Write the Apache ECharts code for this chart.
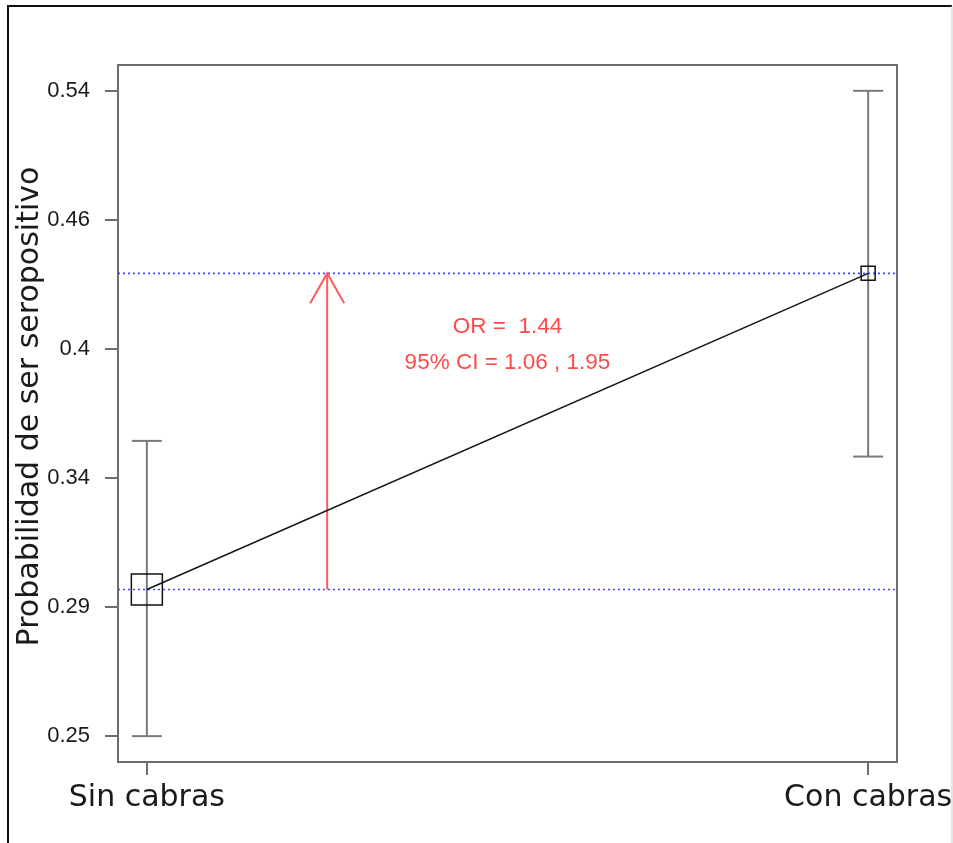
<!DOCTYPE html>
<html>
<head>
<meta charset="utf-8">
<script src="https://cdn.jsdelivr.net/npm/echarts@6/dist/echarts.min.js"></script>
<style>
  html, body { margin: 0; padding: 0; background: #fff; }
  #chart { width: 953px; height: 843px; }
</style>
</head>
<body>
<div id="chart"></div>
<script>
// Groups compared and their position on the x scale
const groups = ['Sin cabras', 'Con cabras'];
const groupPos = [1, 2];

// Estimated probability of being seropositive with its 95% interval
const prob = [0.2978, 0.4343];
const ciLower = [0.25, 0.349];
const ciUpper = [0.3556, 0.54];

// Odds ratio summary
const oddsRatio = 1.44;
const orCiLow = 1.06;
const orCiHigh = 1.95;

// Y axis ticks (log scale) and their printed labels
const yTickValues = [0.25, 0.2917, 0.3403, 0.397, 0.4631, 0.54];
const yTickLabels = ['0.25', '0.29', '0.34', '0.4', '0.46', '0.54'];

const chart = echarts.init(document.getElementById('chart'), null, { renderer: 'canvas' });

const boxColor = '#6e6e6e';
const barColor = '#7a7a7a';
const markerSizes = [31, 14];

function nearestTickLabel(v) {
  let best = 0, bestD = Infinity;
  yTickValues.forEach((t, i) => {
    const d = Math.abs(Math.log(t) - Math.log(v));
    if (d < bestD) { bestD = d; best = i; }
  });
  return yTickLabels[best];
}

// Vertical interval bars with caps
function renderErrorBar(params, api) {
  const x = api.value(0);
  const top = api.coord([x, api.value(2)]);
  const bottom = api.coord([x, api.value(1)]);
  const half = 15;
  const style = { stroke: barColor, lineWidth: 2 };
  return {
    type: 'group',
    children: [
      { type: 'line', shape: { x1: top[0], y1: top[1], x2: bottom[0], y2: bottom[1] }, style },
      { type: 'line', shape: { x1: top[0] - half, y1: top[1], x2: top[0] + half, y2: top[1] }, style },
      { type: 'line', shape: { x1: bottom[0] - half, y1: bottom[1], x2: bottom[0] + half, y2: bottom[1] }, style }
    ]
  };
}

// Dotted reference line across the whole plot at each group's estimate
function renderRefLine(params, api) {
  const cs = params.coordSys;
  const p = api.coord([api.value(0), api.value(1)]);
  return {
    type: 'line',
    shape: { x1: cs.x, y1: p[1], x2: cs.x + cs.width, y2: p[1] },
    style: { stroke: '#4646ff', lineWidth: 1.6, lineDash: [2, 3] }
  };
}

// Arrow from the first group's level up to the second group's level
function renderArrow(params, api) {
  const x = api.value(0);
  const from = api.coord([x, api.value(1)]);
  const to = api.coord([x, api.value(2)]);
  const style = { stroke: '#ff5a5a', lineWidth: 2, fill: null };
  return {
    type: 'group',
    children: [
      { type: 'line', shape: { x1: from[0], y1: from[1], x2: to[0], y2: to[1] }, style },
      { type: 'polyline', shape: { points: [[to[0] - 17, to[1] + 30], [to[0], to[1]], [to[0] + 17, to[1] + 30]] }, style }
    ]
  };
}

const arrowX = groupPos[0] + (groupPos[1] - groupPos[0]) / 4;
const textX = (groupPos[0] + groupPos[1]) / 2;

const option = {
  animation: false,
  backgroundColor: '#ffffff',
  grid: {
    left: 118, right: 56, top: 65, bottom: 81,
    show: true, borderColor: boxColor, borderWidth: 2,
    outerBoundsMode: 'none'
  },
  xAxis: {
    type: 'value',
    min: 0.96, max: 2.04,
    splitLine: { show: false },
    axisLine: { show: false },
    axisTick: { show: true, length: 13, customValues: groupPos, lineStyle: { color: boxColor, width: 2 } },
    axisLabel: {
      customValues: groupPos,
      margin: 21,
      fontFamily: 'DejaVu Sans', fontSize: 30, color: '#1a1a1a',
      formatter: v => groups[groupPos.indexOf(Math.round(v))]
    }
  },
  yAxis: {
    type: 'log',
    min: 0.2424, max: 0.5569,
    splitLine: { show: false },
    axisLine: { show: false },
    axisTick: { show: true, length: 13, customValues: yTickValues, lineStyle: { color: boxColor, width: 2 } },
    axisLabel: {
      customValues: yTickValues,
      margin: 28,
      fontFamily: 'Liberation Sans', fontSize: 22, color: '#1a1a1a',
      formatter: v => nearestTickLabel(v)
    },
    name: 'Probabilidad de ser seropositivo',
    nameLocation: 'middle',
    nameRotate: 90,
    nameGap: 73,
    nameMoveOverlap: false,
    nameTextStyle: { fontFamily: 'DejaVu Sans', fontSize: 30, color: '#1a1a1a', padding: [0, 0, 0, 14] }
  },
  series: [
    {
      type: 'custom',
      name: 'interval',
      renderItem: renderErrorBar,
      encode: { x: 0, y: [1, 2] },
      data: groupPos.map((x, i) => [x, ciLower[i], ciUpper[i]]),
      z: 2
    },
    {
      type: 'custom',
      name: 'reference',
      renderItem: renderRefLine,
      encode: { x: 0, y: 1 },
      data: groupPos.map((x, i) => [x, prob[i]]),
      silent: true,
      z: 3
    },
    {
      type: 'line',
      name: 'estimate',
      data: groupPos.map((x, i) => [x, prob[i]]),
      symbol: 'rect',
      symbolSize: (val, params) => markerSizes[params.dataIndex],
      itemStyle: { color: 'rgba(0,0,0,0)', borderColor: '#111', borderWidth: 1.5 },
      lineStyle: { color: '#151515', width: 1.5 },
      z: 4
    },
    {
      type: 'custom',
      name: 'arrow',
      renderItem: renderArrow,
      encode: { x: 0, y: [1, 2] },
      data: [[arrowX, prob[0], prob[1]]],
      z: 3
    },
    {
      type: 'scatter',
      name: 'oddsText',
      symbolSize: 0,
      data: [[textX, 0.3986]],
      label: {
        show: true,
        position: 'inside',
        color: '#ff1a1a',
        fontFamily: 'Liberation Sans',
        fontSize: 22.5,
        lineHeight: 36,
        align: 'center',
        verticalAlign: 'middle',
        formatter: () => 'OR =  ' + oddsRatio.toFixed(2) + '\n95% CI = ' + orCiLow.toFixed(2) + ' , ' + orCiHigh.toFixed(2)
      },
      z: 5
    }
  ],
  graphic: [
    { type: 'polyline', silent: true, shape: { points: [[8, 843], [8, 6], [952, 6]] }, style: { stroke: '#111', lineWidth: 2, fill: null } },
    { type: 'line', silent: true, shape: { x1: 952, y1: 6, x2: 952, y2: 843 }, style: { stroke: '#cccccc', lineWidth: 1 } }
  ]
};

chart.setOption(option);
</script>
</body>
</html>
